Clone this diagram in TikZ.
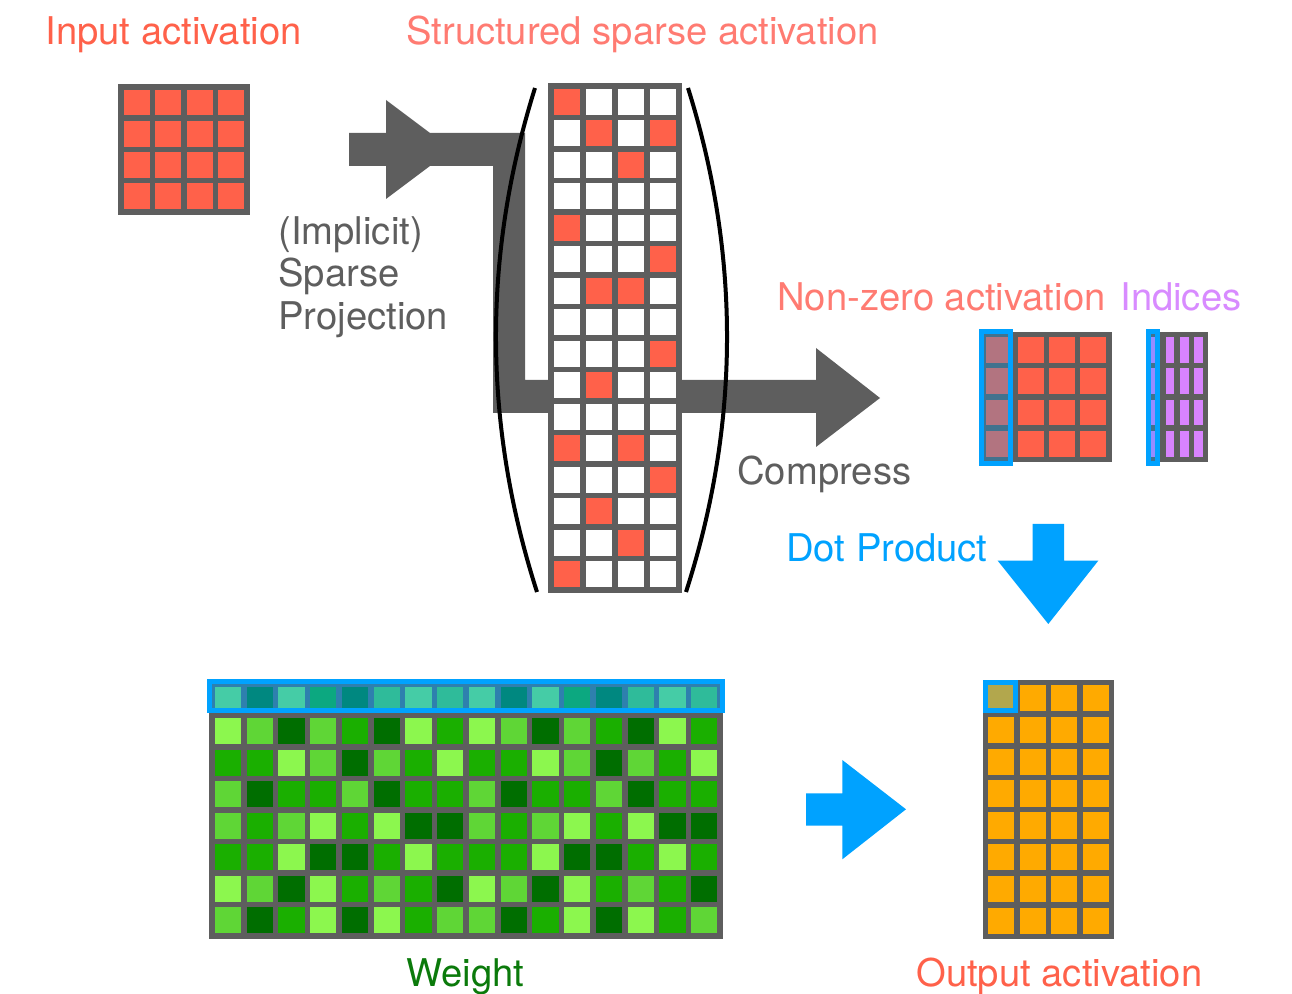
\documentclass[tikz,border=0pt]{standalone}
\usepackage{fontspec}
\setmainfont{TeX Gyre Heros}
\definecolor{gr}{HTML}{5E5E5E}
\definecolor{rd}{HTML}{FF614A}
\definecolor{rdl}{HTML}{FF7B72}
\definecolor{bl}{HTML}{00A2FF}
\definecolor{pu}{HTML}{D883FF}
\definecolor{pul}{HTML}{D88BFF}
\definecolor{og}{HTML}{FFAA00}
\definecolor{wL}{HTML}{8CF74E}
\definecolor{wM}{HTML}{5FD636}
\definecolor{wG}{HTML}{1AAF00}
\definecolor{wD}{HTML}{006E00}
\definecolor{wt}{HTML}{0B7A0B}
\begin{document}
\begin{tikzpicture}[x=0.5pt,y=-0.5pt,
  cell/.style={draw=gr,line width=2.75pt},
  hilite/.style={draw=bl,line width=2.5pt,fill=bl,fill opacity=#1},
  lbl/.style={anchor=base west,inner sep=0pt,font=\fontsize{19.1}{22}\selectfont},
  bracket/.style={draw=black,line width=2pt}]
\useasboundingbox (0,0) rectangle (1292,994);

% labels
\node[lbl,text=rd] (tin) at (45,45) {Input activation};
\node[lbl,text=rdl] (tss) at (406,45) {Structured sparse activation};
\node[lbl,text=gr] (ti1) at (278,245) {(Implicit)};
\node[lbl,text=gr] (ti2) at (278,287) {Sparse};
\node[lbl,text=gr] (ti3) at (278,330) {Projection};
\node[lbl,text=gr] (tcp) at (737,485) {Compress};
\node[lbl,text=rdl] (tnz) at (777,311) {Non-zero activation};
\node[lbl,text=pul] (tix) at (1120,311) {Indices};
\node[lbl,text=bl] (tdp) at (786,562) {Dot Product};
\node[lbl,text=wt] (twt) at (406,986) {Weight};
\node[lbl,text=rd] (tout) at (916,986) {Output activation};

% input activation
\foreach \i in {0,...,3} \foreach \j in {0,...,3}
  \draw[cell,fill=rd] ({121+\i*31.5},{87+\j*31.25}) rectangle ++(31.5,31.25);

% gray projection / compress arrow
\fill[gr] (349,133) -- (386,133) -- (386,100) -- (430,133) -- (525,133) -- (525,380)
  -- (816,380) -- (816,348) -- (880,398) -- (816,447) -- (816,413) -- (493,413)
  -- (493,166) -- (430,166) -- (386,199) -- (386,166) -- (349,166) -- cycle;

% structured sparse activation
\foreach \i in {0,...,3} \foreach \j in {0,...,15}
  \draw[cell,fill=white] ({551+\i*32},{86+\j*31.5}) rectangle ++(32,31.5);
\foreach \i/\j in {0/0,1/1,3/1,2/2,0/4,3/5,1/6,2/6,3/8,1/9,0/11,2/11,3/12,1/13,2/14,0/15}
  \draw[cell,fill=rd] ({551+\i*32},{86+\j*31.5}) rectangle ++(32,31.5);

% brackets
\draw[bracket] (535,88) .. controls (482.3,256) and (483,424) .. (537,592);
\draw[bracket] (688,88) .. controls (740.7,256) and (740,424) .. (686,592);

% non-zero activation
\foreach \i in {0,...,3} \foreach \j in {0,...,3}
  \draw[cell,fill=rd] ({983.5+\i*31.4},{334.5+\j*31.25}) rectangle ++(31.4,31.25);
\draw[hilite=0.3] (981.5,331.5) rectangle (1010.5,463.5);

% indices
\foreach \i in {0,...,3} \foreach \j in {0,...,3}
  \draw[cell,fill=pu] ({1148.5+\i*14.25},{334.5+\j*31.25}) rectangle ++(14.25,31.25);
\draw[hilite=0.3] (1148.5,331.5) rectangle (1157.5,463.5);

% dot product arrow
\fill[bl] (1032.7,524) -- (1064,524) -- (1064,560.7) -- (1098.3,560.7) -- (1048.3,624)
  -- (997.7,560.7) -- (1032.7,560.7) -- cycle;

% weight
\foreach \row [count=\j from 0] in {{L,D,L,G,D,M,L,M},{L,M,D,M,G,D,L,G},{G,G,L,M,D,M,G,L},
  {M,D,G,G,M,D,G,G},{M,G,M,L,G,L,D,D},{G,G,L,D,D,G,L,G},{L,M,D,L,G,M,G,D},{M,D,G,L,D,L,G,M}}
  \foreach \c [count=\i from 0] in \row {
    \draw[cell,fill=w\c] ({212+\i*31.75},{684+\j*31.5}) rectangle ++(31.75,31.5);
    \draw[cell,fill=w\c] ({212+(\i+8)*31.75},{684+\j*31.5}) rectangle ++(31.75,31.5);
  }
\draw[hilite=0.5] (209.5,681.5) rectangle (722.5,710.5);

% right arrow
\fill[bl] (806,793.3) -- (842.3,793.3) -- (842.3,760) -- (906,809.3) -- (842.3,859.3)
  -- (842.3,825.7) -- (806,825.7) -- cycle;

% output activation
\foreach \i in {0,...,3} \foreach \j in {0,...,7}
  \draw[cell,fill=og] ({985.5+\i*31.5},{682.5+\j*31.75}) rectangle ++(31.5,31.75);
\draw[hilite=0.3] (985.5,682.5) rectangle (1015.5,710.5);
\end{tikzpicture}
\end{document}
